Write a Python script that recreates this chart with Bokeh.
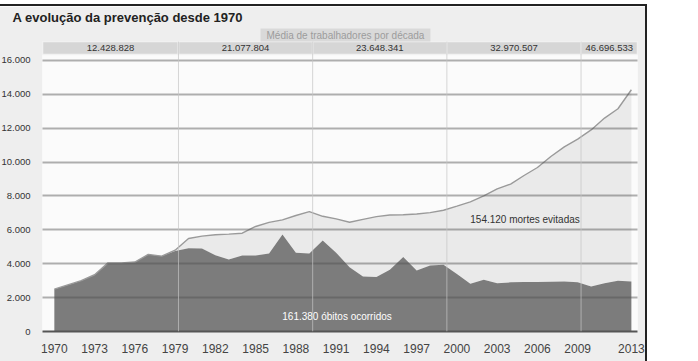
from bokeh.plotting import figure
from bokeh.models import Span, FixedTicker, Title
from bokeh.core.properties import value
from bokeh.embed import file_html
from bokeh.resources import INLINE

# ---------------- data ----------------
years = list(range(1970, 2014))
# óbitos ocorridos (dark area)
obitos = [2500, 2750, 3000, 3350, 4050, 4050, 4100, 4550, 4450, 4750,
          4920, 4900, 4500, 4250, 4490, 4480, 4600, 5730, 4650, 4600,
          5370, 4650, 3800, 3250, 3210, 3650, 4400, 3600, 3900, 3940,
          3400, 2820, 3050, 2850, 2900, 2920, 2920, 2930, 2950, 2900,
          2650, 2850, 3000, 2950]
# óbitos esperados sem prevenção (line)
esperado = [2500, 2750, 3000, 3350, 4050, 4050, 4100, 4550, 4450, 4800,
            5490, 5630, 5710, 5750, 5800, 6200, 6440, 6590, 6850, 7080,
            6800, 6650, 6450, 6620, 6780, 6880, 6890, 6940, 7020, 7160,
            7400, 7650, 8000, 8420, 8700, 9210, 9680, 10330, 10900, 11360,
            11900, 12600, 13150, 14270]

decades = [1970, 1980, 1990, 2000, 2010]
decade_labels = ["12.428.828", "21.077.804", "23.648.341", "32.970.507", "46.696.533"]

x_ticks = [1970, 1973, 1976, 1979, 1982, 1985, 1988, 1991, 1994, 1997, 2000, 2003, 2006, 2009, 2013]
x_tick_labels = ["1970", "1973", "1976", "1979", "1982", "1985", "1988", "1991", "1994",
                 "1997", "2000", "2003", "2006", "2009", "2013"]
y_ticks = [0, 2000, 4000, 6000, 8000, 10000, 12000, 14000, 16000]
y_tick_labels = ["0", "2.000", "4.000", "6.000", "8.000", "10.000", "12.000", "14.000", "16.000"]

title_text = "A evolução da prevenção desde 1970"
tab_text = "Média de trabalhadores por década"
area_text = "161.380 óbitos ocorridos"
gap_text = "154.120 mortes evitadas"

# ---------------- layout helpers (page pixels -> data) ----------------
X0_PX, PX_PER_YEAR = 54.0, 13.6
Y0_PX, PX_PER_UNIT = 331.0, 0.01694


def xd(px):
    return 1970 + (px - X0_PX) / PX_PER_YEAR


def yd(py):
    return (Y0_PX - py) / PX_PER_UNIT


SANS = "Liberation Sans"

p = figure(width=647, height=355, title=None,
           x_range=(xd(42), xd(645)), y_range=(0, yd(41)),
           output_backend="svg", toolbar_location=None,
           min_border_left=36, min_border_right=8,
           min_border_top=35, min_border_bottom=30)
p.styles = {"position": "absolute", "left": "-2px", "top": "6px",
            "box-shadow": "-2px 0 0 0 #222, 2px 0 0 0 #222, 0 -2px 0 0 #222, -2px -2px 0 0 #222, 2px -2px 0 0 #222"}
p.border_fill_color = "#eeeeee"
p.background_fill_color = "#fbfbfb"
p.outline_line_color = None

# titles (closest to plot first)
p.add_layout(Title(text=tab_text, text_font=SANS, text_font_size="10px",
                   text_font_style="normal", text_color="#9c9c9c",
                   align="left", offset=218, standoff=0,
                   background_fill_color="#d9d9d9",
                   padding=dict(left=6, right=6, top=1, bottom=1)), "above")
p.add_layout(Title(text=title_text, text_font=SANS, text_font_size="13px",
                   text_font_style="bold", text_color="#222222",
                   align="left", offset=-30, standoff=3), "above")

# gap between expected and real (avoided deaths)
p.varea(x=years, y1=obitos, y2=esperado, fill_color="#eaeaea")
# deaths area
p.varea(x=years, y1=0, y2=obitos, fill_color="#7c7c7c")
# expected line
p.line(years, esperado, line_color="#9a9a9a", line_width=1.4)

# decade separators
bounds = [d - 0.75 for d in decades[1:]]
for b in bounds:
    p.add_layout(Span(location=b, dimension="height", line_color="#c4c4c4",
                      line_alpha=0.7, line_width=1))

# header band with decade averages
lefts = [xd(42)] + bounds
rights = bounds + [xd(645)]
p.quad(left=lefts, right=rights, bottom=yd(54), top=yd(41),
       fill_color="#d6d6d6", line_color="#f2f2f2", line_width=1.5)
p.text(x=[(l + r) / 2 for l, r in zip(lefts, rights)], y=[yd(47.5)] * len(decade_labels),
       text=decade_labels, text_font=value(SANS), text_font_size="9.5px",
       text_color="#333333", text_align="center", text_baseline="middle")

# in-chart texts
p.text(x=[xd(340.5)], y=[yd(316)], text=[area_text], text_font=value(SANS),
       text_font_size="10px", text_color="#ffffff", text_align="center",
       text_baseline="middle")
p.text(x=[xd(531)], y=[yd(219)], text=[gap_text], text_font=value(SANS),
       text_font_size="10px", text_color="#333333", text_align="center",
       text_baseline="middle")

# axes
p.xgrid.visible = False
p.ygrid.ticker = FixedTicker(ticks=y_ticks)
p.ygrid.grid_line_color = "#505050"
p.ygrid.grid_line_alpha = 0.45
p.ygrid.grid_line_width = 2
p.ygrid.level = "guide"

p.xaxis.ticker = FixedTicker(ticks=x_ticks)
p.xaxis.major_label_overrides = dict(zip(x_ticks, x_tick_labels))
p.xaxis.axis_line_color = "#555555"
p.xaxis.axis_line_width = 2
p.xaxis.major_tick_line_color = None
p.xaxis.minor_tick_line_color = None
p.xaxis.major_label_standoff = 6
p.xaxis.major_label_text_font = SANS
p.xaxis.major_label_text_font_size = "12px"
p.xaxis.major_label_text_color = "#444444"

p.yaxis.ticker = FixedTicker(ticks=y_ticks)
p.yaxis.major_label_overrides = dict(zip(y_ticks, y_tick_labels))
p.yaxis.axis_line_color = None
p.yaxis.major_tick_line_color = None
p.yaxis.minor_tick_line_color = None
p.yaxis.major_label_standoff = 6
p.yaxis.major_label_text_font = SANS
p.yaxis.major_label_text_font_size = "9.5px"
p.yaxis.major_label_text_color = "#333333"

open("out.html", "w").write(file_html(p, INLINE))
